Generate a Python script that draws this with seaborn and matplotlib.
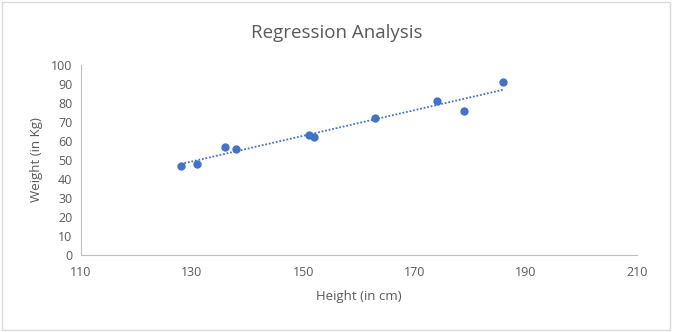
import matplotlib
matplotlib.use("Agg")
import matplotlib.pyplot as plt
import seaborn as sns
import pandas as pd
from matplotlib.patches import Rectangle

height = [128, 131, 136, 138, 151, 152, 163, 174, 179, 186]
weight = [47, 48, 57, 56, 63, 62, 72, 81, 76, 91]
xticks = [110, 130, 150, 170, 190, 210]
yticks = list(range(0, 101, 10))

df = pd.DataFrame({"Height": height, "Weight": weight})

sns.set_style("white")
plt.rcParams['font.family'] = ['Open Sans', 'DejaVu Sans']

fig = plt.figure(figsize=(6.73, 3.32), dpi=100)
ax = fig.add_axes([0.120, 0.232, 0.826, 0.572])
color = "#4472C4"
sns.regplot(data=df, x="Height", y="Weight", ci=None, ax=ax,
            scatter_kws=dict(s=36, color=color, linewidths=0, alpha=1),
            line_kws=dict(color=color, linestyle=(0, (1, 1)), linewidth=1.3))

ax.set_xlim(110, 210)
ax.set_ylim(0, 100)
ax.set_xticks(xticks)
ax.set_yticks(yticks)
ax.tick_params(axis='both', length=0, labelsize=9, colors="#595959", pad=8)
ax.tick_params(axis='y', pad=6)
for s in ["top", "right"]:
    ax.spines[s].set_visible(False)
for s in ["left", "bottom"]:
    ax.spines[s].set_color("#BFBFBF")
    ax.spines[s].set_linewidth(0.8)
ax.set_xlabel("Height (in cm)", fontsize=9.5, color="#595959", labelpad=8)
ax.set_ylabel("Weight (in Kg)", fontsize=9.5, color="#595959", labelpad=6)
fig.text(0.5, 0.9, "Regression Analysis", ha="center", va="center",
         fontsize=13.5, color="#595959")
fig.patches.append(Rectangle((0.003, 0.006), 0.992, 0.988, transform=fig.transFigure,
                             fill=False, edgecolor="#D9D9D9", linewidth=1))
fig.savefig("out.png", dpi=100)
